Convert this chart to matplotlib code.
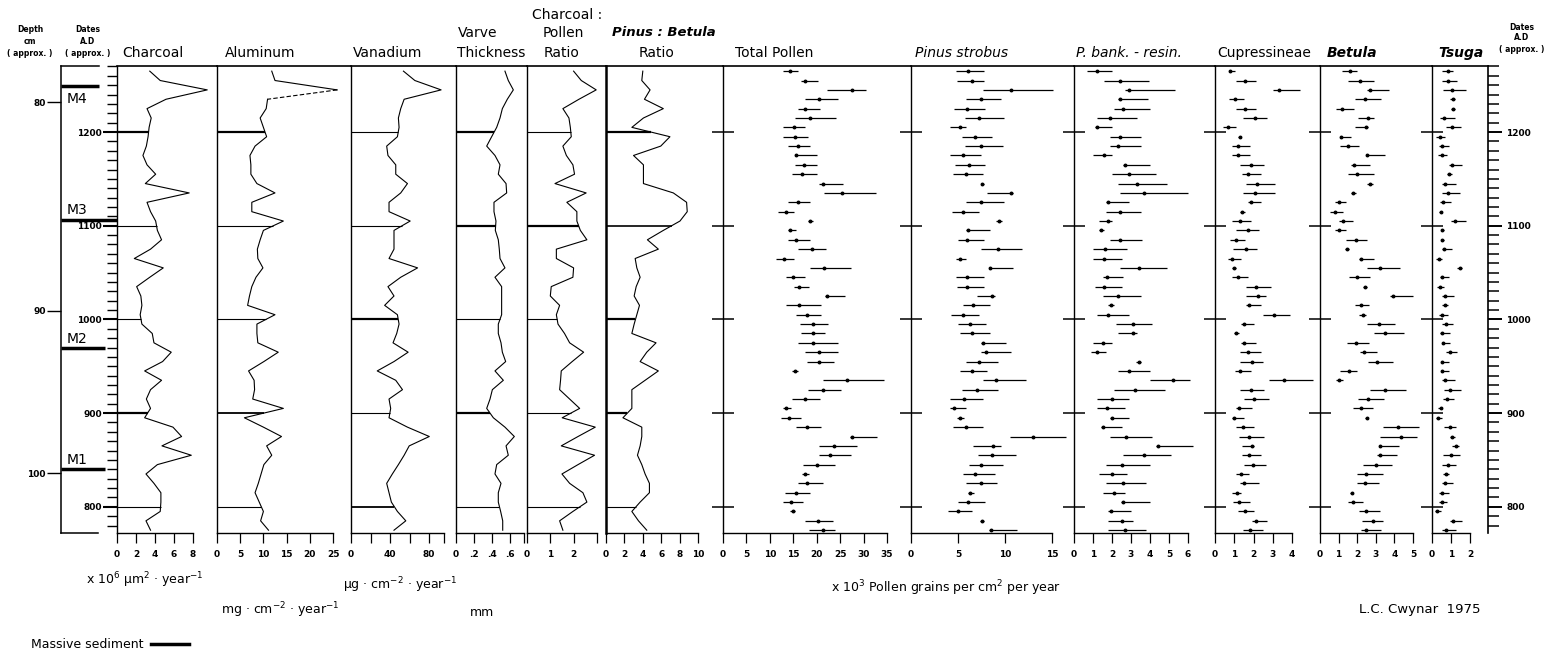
import numpy as np
import matplotlib
matplotlib.use("Agg")
import matplotlib.pyplot as plt
from matplotlib.lines import Line2D
from matplotlib.ticker import MultipleLocator

# ---------------- data ----------------
# sample dates, A.D. (approx.), top of core to bottom
dates = [1265, 1255, 1245, 1235, 1225, 1215, 1205, 1195, 1185, 1175,
         1165, 1155, 1145, 1135, 1125, 1115, 1105, 1095, 1085, 1075,
         1065, 1055, 1045, 1035, 1025, 1015, 1005, 995, 985, 975,
         965, 955, 945, 935, 925, 915, 905, 895, 885, 875,
         865, 855, 845, 835, 825, 815, 805, 795, 785, 775]

date_marks = [1200, 1100, 1000, 900, 800]

charcoal = [3.45, 4.55, 9.5, 5.16, 3.16, 3.6, 3.38, 3.27, 3.09, 2.73, 3.16, 4.07, 2.98, 7.6, 3.16,
            3.53, 4.07, 4.25, 4.69, 3.53, 1.82, 4.87, 3.45, 2.07, 2.51, 2.62, 2.44, 2.62, 3.71, 3.89,
            5.71, 4.8, 2.91, 4.69, 3.53, 3.09, 3.53, 2.91, 5.89, 6.8, 4.73, 7.82, 4.25, 3.05, 3.89,
            4.62, 4.62, 4.55, 3.05, 3.53]
aluminum = [11.8, 12.5, 25.9, 10.9, 10.6, 9.3, 10.0, 10.7, 8.2, 7.1, 7.3, 7.3, 8.6, 12.5, 7.5,
            7.5, 14.3, 10.0, 9.3, 8.7, 8.8, 9.9, 8.4, 7.5, 7.0, 6.6, 12.5, 8.6, 8.6, 8.8,
            13.2, 10.1, 6.8, 8.0, 8.1, 7.7, 14.3, 5.9, 10.0, 13.9, 10.7, 11.8, 10.1, 9.5, 8.9,
            8.2, 9.1, 10.0, 9.4, 11.1]
vanadium = [53.8, 65.5, 92.4, 54.5, 51.0, 48.6, 49.3, 47.6, 36.6, 37.9, 45.9, 45.9, 57.9, 51.0, 39.0,
            39.0, 60.7, 44.1, 44.1, 44.1, 39.0, 68.3, 51.0, 37.9, 44.1, 34.5, 47.6, 49.3, 46.9, 43.1,
            58.6, 44.1, 26.9, 45.9, 52.8, 39.0, 40.7, 39.0, 57.9, 80.3, 59.7, 54.5, 48.6, 42.4, 36.6,
            39.0, 41.4, 47.6, 56.2, 44.1]
varve = [0.544, 0.581, 0.637, 0.570, 0.515, 0.489, 0.452, 0.396, 0.341, 0.433, 0.489, 0.470, 0.556,
         0.563, 0.422, 0.422, 0.444, 0.437, 0.470, 0.481, 0.489, 0.544, 0.433, 0.507, 0.507, 0.507,
         0.507, 0.470, 0.470, 0.500, 0.515, 0.552, 0.433, 0.526, 0.404, 0.378, 0.341, 0.415, 0.544,
         0.648, 0.556, 0.581, 0.452, 0.433, 0.500, 0.470, 0.470, 0.496, 0.519, 0.519]
char_pollen = [2.0, 2.33, 2.97, 2.23, 1.54, 1.8, 1.86, 1.9, 1.54, 1.69, 1.97, 2.04, 1.2, 2.54, 1.71,
               2.14, 2.14, 2.29, 2.57, 1.26, 1.26, 2.0, 1.97, 1.04, 1.0, 1.4, 1.26, 1.33, 1.61, 1.83,
               2.43, 1.94, 1.47, 1.44, 1.4, 1.83, 2.26, 1.51, 2.93, 2.19, 1.47, 2.9, 2.19, 1.5, 1.83,
               2.4, 2.57, 1.97, 1.4, 1.54]
pinus_betula = [4.0, 3.89, 4.79, 4.18, 6.23, 4.07, 2.81, 6.95, 5.95, 2.99, 4.07, 4.07, 4.07, 7.32, 8.76,
                8.83, 8.04, 6.23, 4.5, 5.69, 3.17, 3.35, 3.71, 3.28, 3.06, 3.64, 3.35, 3.06, 2.81, 5.44,
                4.43, 3.71, 5.69, 4.25, 2.81, 2.81, 2.81, 1.84, 3.89, 3.89, 3.71, 3.42, 3.89, 4.25, 4.72,
                4.72, 3.71, 2.81, 3.53, 4.43]

# pollen influx: centre value and low / high ends of each bar (x 10^3 grains cm-2 yr-1)
total_c = [14.2, 17.6, 27.5, 20.4, 17.6, 18.6, 15.2, 15.3, 16.1, 15.6, 17.2, 16.9, 21.3, 25.4, 16.0,
           13.5, 18.6, 14.2, 15.6, 19.0, 13.1, 21.6, 14.9, 16.3, 22.3, 16.3, 17.9, 19.1, 19.1, 19.1,
           20.4, 20.4, 15.4, 26.5, 21.3, 17.4, 13.5, 14.0, 17.9, 27.5, 23.6, 22.8, 20.0, 17.6, 17.9,
           15.6, 14.5, 14.9, 20.3, 21.3]
total_lo = [12.9, 16.7, 22.2, 17.6, 15.9, 15.3, 12.9, 12.9, 13.8, 15.3, 15.3, 14.7, 20.4, 21.5, 13.8,
            11.7, 18.1, 13.8, 13.8, 16.0, 11.4, 18.6, 13.4, 15.1, 21.8, 13.4, 15.5, 16.5, 16.6, 15.9,
            17.6, 17.9, 14.8, 21.3, 18.1, 14.8, 12.9, 12.4, 15.5, 27.0, 20.4, 20.4, 17.1, 16.9, 16.0,
            13.2, 12.7, 14.4, 17.6, 18.3]
total_hi = [16.0, 20.3, 30.5, 24.5, 20.8, 24.2, 17.6, 18.1, 18.6, 20.0, 20.0, 20.0, 25.7, 32.6, 18.6,
            15.1, 19.1, 15.6, 18.6, 22.0, 15.2, 27.3, 17.4, 18.3, 26.1, 20.9, 20.9, 22.4, 21.8, 24.6,
            24.5, 23.6, 16.1, 34.3, 25.2, 20.8, 14.6, 16.6, 20.9, 32.9, 28.6, 27.3, 24.0, 18.3, 21.3,
            18.6, 17.1, 15.4, 23.4, 24.0]

strobus_c = [6.1, 6.5, 10.6, 7.4, 6.0, 7.2, 5.2, 6.8, 7.4, 5.5, 6.2, 5.9, 7.6, 10.6, 7.4, 5.5, 9.4,
             6.1, 6.0, 9.3, 5.2, 8.4, 6.0, 6.0, 8.6, 6.6, 5.5, 6.3, 6.5, 7.7, 8.0, 7.2, 6.5, 9.0, 7.0,
             5.6, 4.6, 5.2, 5.9, 13.0, 8.7, 8.6, 7.4, 6.8, 7.4, 6.3, 6.1, 5.0, 7.6, 8.5]
strobus_lo = [4.8, 4.9, 7.7, 5.9, 4.6, 5.7, 4.1, 5.4, 5.7, 4.1, 4.7, 4.5, 7.4, 8.1, 5.9, 4.4, 9.0,
              5.8, 5.0, 7.4, 4.8, 8.3, 4.8, 4.9, 7.0, 5.5, 4.3, 5.0, 5.2, 7.4, 7.4, 5.8, 5.2, 7.7, 5.4,
              4.2, 4.2, 4.9, 4.5, 10.5, 6.6, 7.1, 6.2, 5.5, 5.9, 6.1, 5.0, 3.9, 7.3, 8.3]
strobus_hi = [7.8, 7.8, 15.1, 9.6, 7.9, 9.9, 5.8, 8.6, 9.8, 7.4, 7.9, 7.7, 7.8, 10.8, 9.9, 7.2, 9.7,
              8.4, 7.8, 11.8, 5.8, 10.9, 7.8, 7.8, 8.9, 8.4, 7.2, 8.0, 8.4, 10.1, 10.6, 9.3, 8.1, 12.2,
              9.3, 7.7, 5.9, 5.6, 7.7, 16.5, 9.6, 11.2, 9.8, 8.9, 9.1, 6.7, 7.9, 6.5, 7.8, 11.3]

bank_c = [1.2, 2.4, 2.9, 2.4, 2.6, 1.9, 1.2, 2.4, 2.3, 1.6, 2.7, 2.9, 3.3, 3.7, 1.8, 2.4, 1.8, 1.4,
          2.4, 1.65, 1.6, 3.4, 1.74, 1.6, 2.3, 1.95, 1.8, 3.1, 3.1, 1.55, 1.2, 3.4, 2.9, 5.2, 3.2,
          2.0, 1.74, 2.0, 1.5, 2.75, 4.4, 3.7, 2.5, 2.0, 2.6, 2.1, 2.6, 1.95, 2.5, 2.7]
bank_lo = [0.7, 1.6, 2.7, 2.3, 2.1, 1.2, 1.1, 1.9, 1.9, 1.0, 2.6, 2.0, 2.3, 2.4, 1.7, 1.7, 1.3, 1.3,
           1.9, 1.0, 1.0, 2.4, 1.5, 1.1, 1.5, 1.8, 1.2, 2.2, 2.3, 1.0, 0.9, 3.25, 2.3, 4.0, 2.1,
           1.2, 1.2, 1.9, 1.4, 1.9, 4.3, 2.6, 1.7, 1.3, 1.7, 1.5, 2.45, 1.8, 1.8, 1.8]
bank_hi = [2.0, 3.96, 5.3, 3.9, 4.0, 3.3, 2.0, 3.5, 3.5, 2.0, 4.0, 4.3, 4.9, 6.0, 2.9, 3.5, 2.0, 1.6,
           3.6, 2.8, 2.5, 4.9, 2.6, 2.5, 3.5, 2.1, 2.9, 4.1, 3.3, 2.0, 1.7, 3.5, 4.0, 6.1, 4.8,
           2.9, 2.7, 2.9, 2.5, 4.1, 6.25, 5.1, 4.0, 2.8, 3.8, 2.7, 4.0, 3.0, 3.1, 3.8]

cupr_c = [0.8, 1.55, 3.3, 1.05, 1.55, 2.1, 0.7, 1.3, 1.2, 1.2, 1.85, 1.7, 2.2, 2.1, 1.85, 1.4, 1.3,
          1.7, 1.1, 1.6, 0.9, 1.0, 1.2, 2.15, 2.25, 1.75, 3.05, 1.5, 1.1, 1.5, 1.7, 1.9, 1.3, 3.6,
          1.85, 2.0, 1.25, 1.0, 1.45, 1.75, 1.9, 1.75, 1.95, 1.35, 1.5, 1.15, 1.25, 1.55, 2.15, 1.8]
cupr_lo = [0.75, 1.1, 3.0, 0.75, 1.1, 1.45, 0.4, 1.2, 0.9, 0.9, 1.3, 1.4, 1.6, 1.45, 1.7, 1.3, 0.9,
           1.1, 0.8, 0.95, 0.7, 0.9, 0.9, 1.6, 1.6, 1.6, 2.5, 1.35, 1.0, 1.35, 1.3, 1.3, 1.05, 2.8,
           1.3, 1.5, 1.1, 0.9, 1.1, 1.25, 1.4, 1.4, 1.5, 1.1, 1.3, 0.9, 0.95, 1.2, 1.9, 1.45]
cupr_hi = [1.05, 2.15, 4.4, 1.5, 2.15, 2.7, 1.1, 1.35, 1.8, 1.8, 2.55, 2.4, 3.1, 3.1, 2.4, 1.55, 1.85,
           2.3, 1.55, 2.2, 1.35, 1.1, 1.7, 2.9, 2.65, 2.4, 3.9, 2.0, 1.25, 2.15, 2.4, 2.5, 1.85, 5.1,
           2.55, 2.8, 1.9, 1.5, 2.05, 2.55, 2.0, 2.4, 2.65, 1.75, 2.3, 1.35, 1.8, 2.05, 2.7, 2.5]

betula_c = [1.6, 2.15, 2.7, 2.4, 1.2, 2.6, 2.45, 1.15, 1.5, 2.5, 1.85, 2.0, 2.7, 1.8, 1.0, 0.8, 1.25,
            1.0, 1.95, 1.45, 2.2, 3.25, 2.0, 2.4, 3.9, 2.2, 2.3, 3.15, 3.5, 1.95, 2.35, 3.05, 1.55,
            1.0, 3.5, 2.6, 2.2, 2.5, 4.2, 4.35, 3.25, 3.2, 3.0, 2.45, 2.4, 1.7, 1.75, 2.45, 2.85, 2.45]
betula_lo = [1.2, 1.5, 2.55, 1.9, 0.85, 2.05, 1.9, 1.1, 1.1, 2.45, 1.65, 1.5, 2.55, 1.65, 0.8, 0.55,
             1.0, 0.8, 1.4, 1.35, 2.1, 2.5, 1.55, 2.3, 3.75, 1.9, 2.1, 2.55, 2.9, 1.45, 2.15, 2.6,
             1.1, 0.85, 2.7, 2.05, 1.8, 2.4, 3.4, 3.2, 3.15, 3.05, 2.3, 2.0, 2.0, 1.6, 1.5, 2.1, 2.25, 2.2]
betula_hi = [2.0, 2.9, 3.7, 3.3, 1.85, 2.9, 2.6, 1.65, 2.1, 3.5, 2.7, 2.9, 2.85, 1.95, 1.4, 1.25, 1.8,
             1.4, 2.55, 1.55, 2.9, 4.3, 2.7, 2.55, 5.0, 2.65, 2.45, 4.05, 4.5, 2.65, 3.05, 3.9, 2.0,
             1.25, 4.65, 3.45, 2.85, 2.6, 5.3, 5.2, 4.25, 4.15, 3.85, 3.4, 3.15, 1.8, 2.3, 3.2, 3.4, 3.3]

tsuga_c = [0.85, 0.85, 1.05, 1.1, 1.1, 0.65, 1.05, 0.4, 0.55, 0.5, 1.05, 0.9, 0.7, 0.85, 0.6, 0.45,
           1.2, 0.55, 0.55, 0.65, 0.35, 1.45, 0.55, 0.4, 0.7, 0.7, 0.5, 0.75, 0.55, 0.6, 0.95, 0.55,
           0.55, 0.7, 0.95, 0.8, 0.45, 0.3, 0.95, 1.05, 1.25, 1.0, 0.85, 0.75, 0.7, 0.5, 0.5, 0.25, 1.1, 0.75]
tsuga_lo = [0.55, 0.55, 0.6, 0.95, 1.0, 0.4, 0.75, 0.2, 0.35, 0.3, 0.9, 0.8, 0.5, 0.55, 0.4, 0.35,
            1.0, 0.45, 0.5, 0.5, 0.2, 1.3, 0.4, 0.25, 0.55, 0.55, 0.35, 0.55, 0.4, 0.5, 0.75, 0.45,
            0.45, 0.55, 0.65, 0.6, 0.3, 0.2, 0.65, 0.95, 1.05, 0.6, 0.55, 0.6, 0.55, 0.35, 0.35, 0.15, 0.95, 0.5]
tsuga_hi = [1.1, 1.3, 1.8, 1.2, 1.2, 1.2, 1.55, 0.7, 0.9, 0.8, 1.6, 1.05, 1.25, 1.45, 1.0, 0.55,
            1.8, 0.65, 0.65, 1.05, 0.5, 1.6, 0.9, 0.65, 1.15, 0.85, 0.85, 1.1, 0.95, 0.95, 1.3, 0.9,
            0.9, 1.2, 1.55, 1.15, 0.55, 0.55, 1.25, 1.2, 1.4, 1.45, 1.25, 0.9, 1.1, 0.9, 0.8, 0.45, 1.6, 1.25]

# depth scale and massive sediment layers (positions given as date equivalents)
depth_labels = ["80", "90", "100"]
depth_at_date = [1232, 1009, 836]
massive_names = ["M4", "M3", "M2", "M1"]
massive_dates = [1249, 1106, 969, 840]

# ---------------- layout ----------------
W, H = 1550, 653
TOP, BOT = 66, 533
DATE_TOP, DATE_BOT = 1270.5, 772

plt.rcParams['font.family'] = ['DejaVu Sans']

fig = plt.figure(figsize=(W / 100, H / 100), dpi=100)
fig.patch.set_facecolor("white")


def add_panel(x0, x1, ppu):
    ax = fig.add_axes([x0 / W, 1 - BOT / H, (x1 - x0) / W, (BOT - TOP) / H])
    ax.set_xlim(0, (x1 - x0) / ppu)
    ax.set_ylim(DATE_BOT, DATE_TOP)
    ax.patch.set_alpha(0)
    ax.spines['right'].set_visible(False)
    ax.spines['top'].set_linewidth(1.2)
    ax.spines['left'].set_linewidth(1.0)
    ax.spines['bottom'].set_linewidth(1.0)
    ax.tick_params(axis='x', direction='out', length=7, width=0.9, labelsize=6.5, pad=5)
    return ax


def bottom_axis(ax, ticks, labels, end):
    ax.set_xticks(ticks)
    ax.set_xticklabels(labels, fontsize=6.5, fontweight='bold')
    ax.spines['bottom'].set_bounds(0, end)


dates_arr = np.array(dates)

# line panels: values, left px, right px, px per unit, ticks, labels, axis end, date line widths
line_panels = [
    (charcoal, 117, 217, 9.5, [0, 2, 4, 6, 8], ["0", "2", "4", "6", "8"], 8, [1.6, 0.8, 0.8, 1.6, 0.8]),
    (aluminum, 217, 351, 4.64, [0, 5, 10, 15, 20, 25], ["0", "5", "10", "15", "20", "25"], 25, [1.6, 0.8, 0.8, 1.3, 0.8]),
    (vanadium, 351, 456, 0.975, [0, 20, 40, 60, 80, 95], ["0", "", "40", "", "80", ""], 95, [0.8, 0.8, 1.6, 0.8, 1.3]),
    (varve, 456, 527, 90.0, [0, 0.2, 0.4, 0.6, 0.75], ["0", ".2", ".4", ".6", ""], 0.75, [1.6, 1.6, 0.8, 1.6, 0.8]),
    (char_pollen, 527, 606, 23.3, [0, 1, 2, 3], ["0", "1", "2", ""], 3, [0.8, 1.6, 0.8, 0.8, 0.8]),
    (pinus_betula, 606, 723, 9.2, [0, 2, 4, 6, 8, 10], ["0", "2", "4", "6", "8", "10"], 10, [1.6, 1.2, 1.6, 1.6, 0.8]),
]

line_axes = []
for vals, x0, x1, ppu, ticks, labels, end, lws in line_panels:
    ax = add_panel(x0, x1, ppu)
    v = np.array(vals)
    if vals is aluminum:
        # upper part of the aluminum curve is dashed in the original
        ax.plot(v[:3], dates_arr[:3], color='k', lw=0.8)
        ax.plot(v[2:4], dates_arr[2:4], color='k', lw=0.8, ls=(0, (4, 2)))
        ax.plot(v[3:], dates_arr[3:], color='k', lw=0.8)
    else:
        ax.plot(v, dates_arr, color='k', lw=0.8)
    ends = np.interp(date_marks, dates_arr[::-1], v[::-1])
    for d, e, lw in zip(date_marks, ends, lws):
        ax.hlines(d, 0, e, color='k', lw=lw)
    bottom_axis(ax, ticks, labels, end)
    ax.set_yticks([])
    line_axes.append(ax)

# the Pinus:Betula axis is drawn heavier
line_axes[5].spines['left'].set_linewidth(1.8)

# date axis on the charcoal panel
ax_c = line_axes[0]
ax_c.yaxis.set_major_locator(MultipleLocator(100))
ax_c.yaxis.set_minor_locator(MultipleLocator(10))
ax_c.tick_params(axis='y', which='major', direction='out', length=10, width=1.5,
                 labelsize=6.5, pad=1)
ax_c.tick_params(axis='y', which='minor', direction='out', length=7, width=1.0)
for lab in ax_c.get_yticklabels():
    lab.set_fontweight('bold')

# pollen panels
pollen_panels = [
    (total_c, total_lo, total_hi, 723, 911, 4.686, list(range(0, 40, 5)), 35),
    (strobus_c, strobus_lo, strobus_hi, 911, 1074, 9.4, [0, 5, 10, 15], 15),
    (bank_c, bank_lo, bank_hi, 1074, 1215, 19.0, [0, 1, 2, 3, 4, 5, 6], 6),
    (cupr_c, cupr_lo, cupr_hi, 1215, 1320, 19.25, [0, 1, 2, 3, 4], 4),
    (betula_c, betula_lo, betula_hi, 1320, 1432, 18.6, [0, 1, 2, 3, 4, 5], 5),
    (tsuga_c, tsuga_lo, tsuga_hi, 1432, 1488, 19.0, [0, 1, 2], 2),
]

pollen_axes = []
for c, lo, hi, x0, x1, ppu, ticks, end in pollen_panels:
    ax = add_panel(x0, x1, ppu)
    c = np.array(c)
    err = [c - np.array(lo), np.array(hi) - c]
    ax.errorbar(c, dates_arr, xerr=err, fmt='o', ms=1.8, mfc='k', mec='k',
                ecolor='k', elinewidth=0.9, capsize=0)
    bottom_axis(ax, ticks, [str(t) for t in ticks], end)
    ax.set_yticks(date_marks)
    ax.set_yticklabels([])
    ax.tick_params(axis='y', direction='inout', length=16, width=1.1)
    pollen_axes.append(ax)

# right-hand date axis
ax_r = pollen_axes[-1].twinx()
ax_r.set_ylim(DATE_BOT, DATE_TOP)
for s in ['left', 'top', 'bottom']:
    ax_r.spines[s].set_visible(False)
ax_r.spines['right'].set_linewidth(1.2)
ax_r.yaxis.set_major_locator(MultipleLocator(100))
ax_r.yaxis.set_minor_locator(MultipleLocator(10))
ax_r.tick_params(axis='y', which='major', direction='out', length=10, width=1.4,
                 labelsize=6.5, pad=3)
ax_r.tick_params(axis='y', which='minor', direction='out', length=8, width=1.1)
for lab in ax_r.get_yticklabels():
    lab.set_fontweight('bold')

# depth axis with massive sediment layers
ax_d = fig.add_axes([61 / W, 1 - BOT / H, (117 - 61) / W, (BOT - TOP) / H])
ax_d.set_xlim(0, 1)
ax_d.set_ylim(DATE_BOT, DATE_TOP)
ax_d.patch.set_alpha(0)
ax_d.spines['right'].set_visible(False)
ax_d.spines['top'].set_bounds(0, 0.68)
ax_d.spines['bottom'].set_bounds(0, 0.66)
for s in ['left', 'top', 'bottom']:
    ax_d.spines[s].set_linewidth(1.1)
ax_d.set_xticks([])
ax_d.set_yticks(depth_at_date)
ax_d.set_yticklabels(depth_labels, fontsize=6.5, fontweight='bold')
ax_d.tick_params(axis='y', direction='out', length=10, width=1.0, pad=1)
bar_extent = [0.68, 1.0, 0.78, 0.78]
for name, d, ext in zip(massive_names, massive_dates, bar_extent):
    ax_d.hlines(d, 0, ext, color='k', lw=2.5)
    if name == "M4":
        ax_d.annotate(name, (0.1, d), xytext=(0, -4), textcoords='offset points',
                      va='top', ha='left', fontsize=10)
    else:
        ax_d.annotate(name, (0.1, d), xytext=(0, 2), textcoords='offset points',
                      va='bottom', ha='left', fontsize=10)

# ---------------- text ----------------
def ftext(x, y, s, ha='left', size=10, **kw):
    fig.text(x / W, 1 - y / H, s, ha=ha, va='center', fontsize=size, **kw)


ftext(122, 53, "Charcoal")
ftext(225, 53, "Aluminum")
ftext(353, 53, "Vanadium")
ftext(458, 33, "Varve")
ftext(457, 53, "Thickness")
ftext(567, 15, "Charcoal :", ha='center')
ftext(563, 33, "Pollen", ha='center')
ftext(562, 53, "Ratio", ha='center')
ftext(664, 33, "Pinus : Betula", ha='center', size=9.5, style='italic', fontweight='bold')
ftext(657, 53, "Ratio", ha='center')
ftext(735, 53, "Total Pollen")
ftext(915, 53, "Pinus strobus", style='italic')
ftext(1076, 53, "P. bank. - resin.", style='italic')
ftext(1217, 53, "Cupressineae")
ftext(1327, 53, "Betula", style='italic', fontweight='bold')
ftext(1438, 53, "Tsuga", style='italic', fontweight='bold')

for x, ys in [(30, (29, 41, 53)), (88, (29, 41, 53)), (1522, (27, 38, 50))]:
    first = "Depth" if x == 30 else "Dates"
    second = "cm" if x == 30 else "A.D"
    for s, y in zip([first, second, "( approx. )"], ys):
        ftext(x, y, s, ha='center', size=5.5, fontweight='bold')

ftext(145, 580, r"x 10$^{6}$ μm$^{2}$ · year$^{-1}$", ha='center', size=9)
ftext(280, 610, r"mg · cm$^{-2}$ · year$^{-1}$", ha='center', size=9)
ftext(400, 585, r"μg · cm$^{-2}$ · year$^{-1}$", ha='center', size=9)
ftext(482, 612, "mm", ha='center', size=9)
ftext(946, 588, r"x 10$^{3}$ Pollen grains per cm$^{2}$ per year", ha='center', size=9)
ftext(1420, 610, "L.C. Cwynar  1975", ha='center', size=9.5)

fig.legend(handles=[Line2D([], [], color='k', lw=2.5)], labels=["Massive sediment"],
           loc='center left', bbox_to_anchor=(20 / W, 1 - 645 / H), frameon=False,
           handlelength=3.0, fontsize=9, markerfirst=False, handletextpad=0.6)

fig.savefig("out.png", dpi=100)
